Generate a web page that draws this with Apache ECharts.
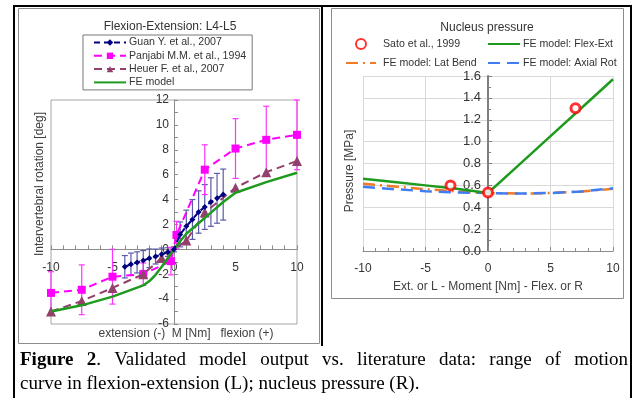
<!DOCTYPE html>
<html>
<head>
<meta charset="utf-8">
<script src="https://cdn.jsdelivr.net/npm/echarts@6.0.0/dist/echarts.min.js"></script>
<style>
  html, body { margin: 0; padding: 0; background: #fff; }
  #wrap { position: relative; width: 639px; height: 398px; overflow: hidden; }
  #chart { position: absolute; left: 0; top: 0; width: 639px; height: 398px; }
  .cap { position: absolute; left: 20px; width: 608px; font-family: 'Liberation Serif', 'Times New Roman', serif;
         font-size: 19px; line-height: 24px; color: #000; white-space: nowrap; }
  #cap1 { top: 347px; text-align: justify; text-align-last: justify; white-space: normal; }
  #cap2 { top: 371px; }
</style>
</head>
<body>
<div id="wrap">
  <div id="chart"></div>
  <div class="cap" id="cap1"><b>Figure 2</b>. Validated model output vs. literature data: range of motion</div>
  <div class="cap" id="cap2">curve in flexion-extension (L); nucleus pressure (R).</div>
</div>
<script>
// left: flexion-extension L4-L5 (moment in Nm, rotation in deg)
const guanX = [-4, -3.5, -3, -2.5, -2, -1.5, -1, -0.5, 0, 0.5, 1, 1.5, 2, 2.5, 3, 3.5, 4]
const guanY = [-1.4, -1.2, -1.05, -0.9, -0.72, -0.58, -0.4, -0.22, 0, 1.2, 1.85, 2.4, 3.0, 3.4, 3.8, 4.1, 4.4]
const guanSD = [0.9, 0.9, 0.85, 0.8, 0.75, 0.6, 0.5, 0.35, 0.2, 1.0, 1.3, 1.6, 1.7, 1.8, 1.95, 2.0, 2.05]

const panX = [-10, -7.5, -5, -2.5, -0.25, 0.2, 2.5, 5, 7.5, 10]
const panY = [-3.5, -3.25, -2.2, -2.0, -0.95, 1.15, 6.4, 8.1, 8.8, 9.2]
const panSD = [1.7, 2.0, 2.2, 0.9, 1.1, 1.1, 2.0, 2.4, 2.7, 2.8]

const heuX = [-10, -7.5, -5, -2.5, -1, 1, 2.5, 5, 7.5, 10]
const heuY = [-5.0, -4.15, -3.1, -2.0, -0.7, 0.7, 2.95, 4.95, 6.2, 7.1]

const feX = [-10, -7.5, -5, -2.5, -2, -1.5, -1, -0.5, 0, 0.5, 1, 2, 3, 4, 5, 7.5, 10]
const feY = [-5.0, -4.5, -3.8, -2.9, -2.55, -2.05, -1.4, -0.7, 0, 0.65, 1.25, 2.1, 2.95, 3.8, 4.55, 5.4, 6.15]

// right: nucleus pressure (MPa)
const satoX = [-3, 0, 7]
const satoY = [0.6, 0.535, 1.305]
const momentX = [-10, -7.5, -5, -2.5, 0, 2.5, 5, 7.5, 10]
const flexExt = [0.66, 0.63, 0.6, 0.57, 0.53, 0.79, 1.05, 1.31, 1.57]
const latBend = [0.615, 0.59, 0.565, 0.545, 0.53, 0.525, 0.53, 0.545, 0.568]
const axialRot = [0.587, 0.565, 0.547, 0.535, 0.53, 0.525, 0.53, 0.545, 0.573]

const FONT = 'Liberation Sans, Arial, sans-serif'
const GREEN = '#1e9b1e'

// plot areas
const leftGrid = { left: 51, top: 100, width: 246, height: 224 }
const rightGrid = { left: 363, top: 76, width: 250, height: 175 }

const pairs = (xs, ys) => xs.map((x, i) => [x, ys[i]])
// legend entry for a plain line (no marker)
const lineOnly = (name) => ({ name, itemStyle: { opacity: 0 } })

function errorBars(xs, ys, sd, color) {
  return {
    type: 'custom',
    xAxisIndex: 0,
    yAxisIndex: 0,
    silent: true,
    z: 1,
    data: xs.map((x, i) => [x, ys[i] - sd[i], ys[i] + sd[i]]),
    encode: { x: 0, y: [1, 2] },
    renderItem: (params, api) => {
      const lo = api.coord([api.value(0), api.value(1)])
      const hi = api.coord([api.value(0), api.value(2)])
      const w = 3
      const style = { stroke: color, lineWidth: 1.2 }
      return {
        type: 'group',
        children: [
          { type: 'line', shape: { x1: lo[0], y1: lo[1], x2: hi[0], y2: hi[1] }, style },
          { type: 'line', shape: { x1: lo[0] - w, y1: lo[1], x2: lo[0] + w, y2: lo[1] }, style },
          { type: 'line', shape: { x1: hi[0] - w, y1: hi[1], x2: hi[0] + w, y2: hi[1] }, style },
        ],
      }
    },
  }
}

const chart = echarts.init(document.getElementById('chart'), null, { renderer: 'canvas' })

const axisText = { color: '#333', fontSize: 12, fontFamily: FONT }
const legendText = { fontSize: 10.6, color: '#333', fontFamily: FONT }

// axes cross at zero: shift them in from the grid edge (span of the negative part)
const leftXOffset = -leftGrid.height * 6 / 18
const leftYOffset = -leftGrid.width * 10 / 20
const rightYOffset = -rightGrid.width * 10 / 20

const option = {
  backgroundColor: '#fff',
  animation: false,
  textStyle: { fontFamily: FONT },
  title: [
    { text: 'Flexion-Extension: L4-L5', left: 165, top: 16, textAlign: 'center',
      textStyle: { fontSize: 12, fontWeight: 'normal', color: '#333', fontFamily: FONT } },
    { text: 'Nucleus pressure', left: 482, top: 17, textAlign: 'center',
      textStyle: { fontSize: 12, fontWeight: 'normal', color: '#333', fontFamily: FONT } },
  ],
  legend: [
    {
      data: ['Guan Y. et al., 2007', 'Panjabi M.M. et al., 1994', 'Heuer F. et al., 2007', lineOnly('FE model')],
      orient: 'vertical',
      left: 83,
      top: 35,
      padding: [1, 6, 1, 10],
      itemGap: 0.3,
      itemWidth: 32,
      itemHeight: 8,
      borderColor: '#777',
      borderWidth: 1,
      textStyle: { ...legendText, lineHeight: 13, padding: [0, 0, 0, -2] },
    },
    {
      data: ['Sato et al., 1999', lineOnly('FE model: Lat Bend')],
      orient: 'vertical',
      left: 345,
      top: 37,
      padding: 0,
      itemGap: 5,
      itemWidth: 30,
      itemHeight: 10,
      textStyle: { ...legendText, lineHeight: 14, padding: [0, 0, 0, 2] },
    },
    {
      data: [lineOnly('FE model: Flex-Ext'), lineOnly('FE model: Axial Rot')],
      orient: 'vertical',
      left: 487,
      top: 37,
      padding: 0,
      itemGap: 5,
      itemWidth: 32,
      itemHeight: 10,
      textStyle: { ...legendText, lineHeight: 14, padding: [0, 0, 0, -2] },
    },
  ],
  grid: [
    { ...leftGrid, show: true, borderColor: '#a6a6a6', borderWidth: 1 },
    { ...rightGrid },
  ],
  xAxis: [
    {
      type: 'value', gridIndex: 0, min: -10, max: 10, interval: 5, position: 'bottom', offset: leftXOffset,
      axisLine: { onZero: false, lineStyle: { color: '#8c8c8c', width: 1 } },
      axisTick: { inside: true, length: 4, lineStyle: { color: '#8c8c8c' } },
      minorTick: { show: true, splitNumber: 5, length: 4, lineStyle: { color: '#8c8c8c' } },
      axisLabel: { ...axisText, margin: 12 },
      splitLine: { show: false },
    },
    {
      type: 'value', gridIndex: 1, min: -10, max: 10, interval: 5, position: 'bottom',
      axisLine: { onZero: false, lineStyle: { color: '#8c8c8c', width: 1 } },
      axisTick: { inside: true, length: 4, lineStyle: { color: '#8c8c8c' } },
      minorTick: { show: true, splitNumber: 5, length: 3, lineStyle: { color: '#8c8c8c' } },
      axisLabel: { ...axisText, margin: 12 },
      splitLine: { show: true, lineStyle: { color: '#d9d9d9', width: 1 } },
    },
  ],
  yAxis: [
    {
      type: 'value', gridIndex: 0, min: -6, max: 12, interval: 2, position: 'left', offset: leftYOffset,
      axisLine: { onZero: false, lineStyle: { color: '#8c8c8c', width: 1 } },
      axisTick: { inside: true, length: 4, lineStyle: { color: '#8c8c8c' } },
      minorTick: { show: true, splitNumber: 2, length: 4, lineStyle: { color: '#8c8c8c' } },
      axisLabel: { ...axisText, margin: 5 },
      splitLine: { show: false },
    },
    {
      type: 'value', gridIndex: 1, min: 0, max: 1.6, interval: 0.2, position: 'left', offset: rightYOffset,
      axisLine: { onZero: false, lineStyle: { color: '#7f7f7f', width: 2 } },
      axisTick: { inside: true, length: 4, lineStyle: { color: '#7f7f7f' } },
      minorTick: { show: true, splitNumber: 2, length: 3, lineStyle: { color: '#7f7f7f' } },
      axisLabel: { ...axisText, fontSize: 13, margin: 7, formatter: (v) => v.toFixed(1) },
      splitLine: { show: true, lineStyle: { color: '#d9d9d9', width: 1 } },
    },
  ],
  series: [
    errorBars(guanX, guanY, guanSD, '#5b5ba8'),
    errorBars(panX, panY, panSD, '#ff33ff'),
    {
      name: 'Panjabi M.M. et al., 1994', type: 'line', xAxisIndex: 0, yAxisIndex: 0,
      data: pairs(panX, panY), symbol: 'rect', symbolSize: 8, z: 3,
      lineStyle: { color: '#ff00ff', width: 2, type: [8, 5] },
      itemStyle: { color: '#ff00ff' },
    },
    {
      name: 'Heuer F. et al., 2007', type: 'line', xAxisIndex: 0, yAxisIndex: 0,
      data: pairs(heuX, heuY), symbol: 'triangle', symbolSize: 10, z: 4,
      lineStyle: { color: '#93406c', width: 2, type: [8, 5] },
      itemStyle: { color: '#93406c' },
    },
    {
      name: 'FE model', type: 'line', xAxisIndex: 0, yAxisIndex: 0,
      data: pairs(feX, feY), symbol: 'none', z: 5,
      lineStyle: { color: GREEN, width: 2.5 },
      itemStyle: { color: GREEN },
    },
    {
      name: 'Guan Y. et al., 2007', type: 'line', xAxisIndex: 0, yAxisIndex: 0,
      data: pairs(guanX, guanY), symbol: 'diamond', symbolSize: 6, z: 6,
      lineStyle: { color: '#000080', width: 2, type: [6, 4] },
      itemStyle: { color: '#000080' },
    },
    {
      name: 'FE model: Lat Bend', type: 'line', xAxisIndex: 1, yAxisIndex: 1,
      data: pairs(momentX, latBend), symbol: 'none', z: 3,
      lineStyle: { color: '#f27a22', width: 2.5, type: [12, 5, 2, 5] },
      itemStyle: { color: '#f27a22' },
    },
    {
      name: 'FE model: Axial Rot', type: 'line', xAxisIndex: 1, yAxisIndex: 1,
      data: pairs(momentX, axialRot), symbol: 'none', z: 4,
      lineStyle: { color: '#3f7df5', width: 2.5, type: [12, 7] },
      itemStyle: { color: '#3f7df5' },
    },
    {
      name: 'FE model: Flex-Ext', type: 'line', xAxisIndex: 1, yAxisIndex: 1,
      data: pairs(momentX, flexExt), symbol: 'none', z: 5,
      lineStyle: { color: GREEN, width: 2.5 },
      itemStyle: { color: GREEN },
    },
    {
      name: 'Sato et al., 1999', type: 'scatter', xAxisIndex: 1, yAxisIndex: 1,
      data: pairs(satoX, satoY), symbol: 'circle', symbolSize: 9, z: 7,
      itemStyle: { color: '#fff', borderColor: '#ff0000', borderWidth: 3 },
    },
  ],
  graphic: [
    // outer frame and cell divider
    { type: 'rect', shape: { x: 14, y: 6, width: 617, height: 400 }, style: { fill: 'none', stroke: '#000', lineWidth: 2 }, z: 100 },
    { type: 'line', shape: { x1: 322, y1: 6, x2: 322, y2: 346 }, style: { stroke: '#000', lineWidth: 2 }, z: 100 },
    // chart area boxes
    { type: 'rect', shape: { x: 18.5, y: 8.5, width: 301, height: 335 }, style: { fill: 'none', stroke: '#8c8c8c', lineWidth: 1 }, z: 100 },
    { type: 'rect', shape: { x: 331.5, y: 8.5, width: 292, height: 290 }, style: { fill: 'none', stroke: '#8c8c8c', lineWidth: 1 }, z: 100 },
    // axis names
    { type: 'text', x: 40, y: 184, rotation: Math.PI / 2,
      style: { text: 'Intervertebral rotation [deg]', fontSize: 12, fontFamily: FONT, fill: '#404040', align: 'center', verticalAlign: 'middle' } },
    { type: 'text', x: 186, y: 334,
      style: { text: 'extension (-)  M [Nm]   flexion (+)', fontSize: 12, fontFamily: FONT, fill: '#404040', align: 'center', verticalAlign: 'middle' } },
    { type: 'text', x: 350, y: 171, rotation: Math.PI / 2,
      style: { text: 'Pressure [MPa]', fontSize: 12, fontFamily: FONT, fill: '#404040', align: 'center', verticalAlign: 'middle' } },
    { type: 'text', x: 488, y: 287,
      style: { text: 'Ext. or L - Moment [Nm] - Flex. or R', fontSize: 12, fontFamily: FONT, fill: '#404040', align: 'center', verticalAlign: 'middle' } },
  ],
}

chart.setOption(option)
</script>
</body>
</html>
